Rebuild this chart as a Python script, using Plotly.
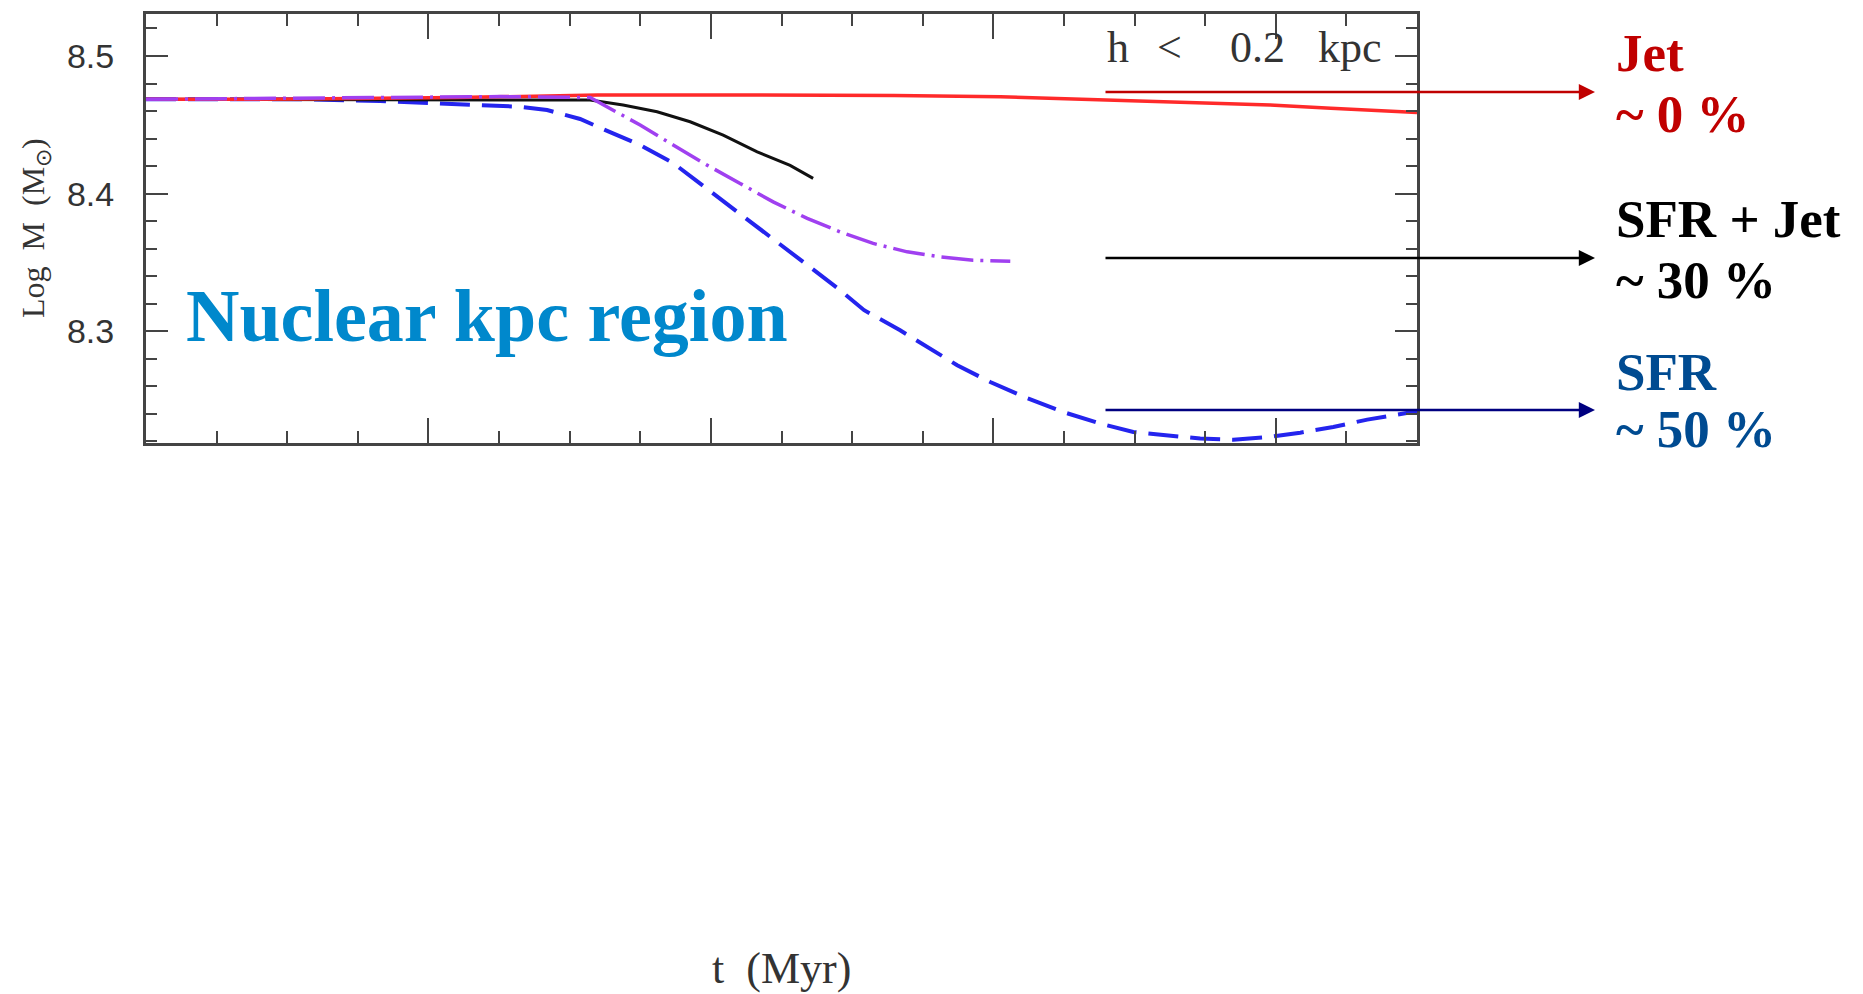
import plotly.graph_objects as go

# ---------------- data ----------------
# t in Myr (axis 0..9, no labelled ticks visible), log M in M_sun
t_jet = [0, 1.1, 2.2, 3.2, 4.3, 5.3, 6.05, 6.85, 7.47, 7.96, 8.39, 9.0]
m_jet = [8.4685, 8.4687, 8.4698, 8.4716, 8.4716, 8.4713, 8.4704, 8.468, 8.4656, 8.4644, 8.462, 8.4589]

t_sfr_jet = [0, 1.5, 3.145, 3.378, 3.619, 3.853, 4.087, 4.328, 4.561, 4.724]
m_sfr_jet = [8.4685, 8.4685, 8.468, 8.4644, 8.4595, 8.4522, 8.4425, 8.4304, 8.4205, 8.4111]

t_mix = [0, 1.30, 2.51, 3.145, 3.265, 3.499, 3.733, 3.973, 4.207, 4.441, 4.682,
         4.915, 5.149, 5.39, 5.624, 5.857, 6.12]
m_mix = [8.4685, 8.4698, 8.4705, 8.4698, 8.4631, 8.4498, 8.4353, 8.4207, 8.4074, 8.394, 8.382,
         8.3722, 8.3638, 8.3577, 8.354, 8.3516, 8.3509]

t_sfr = [0, 1.091, 1.657, 2.011, 2.387, 2.649, 2.840, 3.074, 3.286, 3.499, 3.733, 3.910,
         4.087, 4.299, 4.505, 4.703, 4.915, 5.085, 5.340, 5.574, 5.744, 5.978, 6.240,
         6.495, 6.757, 6.991, 7.231, 7.465, 7.699, 7.940, 8.173, 8.407, 8.648, 9.0]
m_sfr = [8.4685, 8.4685, 8.4673, 8.4658, 8.4644, 8.4631, 8.4607, 8.4542, 8.4447, 8.4353,
         8.4222, 8.4084, 8.3953, 8.3785, 8.3625, 8.3465, 8.3298, 8.3153, 8.3007, 8.2862,
         8.2753, 8.2631, 8.2513, 8.2413, 8.2329, 8.2268, 8.2244, 8.222, 8.2212, 8.2231,
         8.2263, 8.2304, 8.2358, 8.2418]

x_range = [0, 9]
y_range = [8.2188, 8.5305]
y_ticks = [8.3, 8.4, 8.5]
y_ticklabels = ["8.3", "8.4", "8.5"]

panel_label = "h <  0.2 kpc"
region_label = "Nuclear kpc region"
y_title = "Log  M  (M<sub>⊙</sub>)"
x_title = "t  (Myr)"
case_names = ["Jet", "SFR + Jet", "SFR"]
case_fractions = ["~ 0 %", "~ 30 %", "~ 50 %"]

# ---------------- layout geometry (pixels) ----------------
W, H = 1863, 994
L, R, T, B = 146, 1417, 14, 443


def fx(px):
    return (px - L) / (R - L)


def fy(py):
    return (B - py) / (B - T)


AX = "#444444"
fig = go.Figure()

fig.add_trace(go.Scatter(x=t_sfr, y=m_sfr, mode="lines", name="SFR",
                         line=dict(color="#2424EE", width=4, dash="30px,12px")))
fig.add_trace(go.Scatter(x=t_sfr_jet, y=m_sfr_jet, mode="lines", name="SFR + Jet",
                         line=dict(color="#111111", width=3)))
fig.add_trace(go.Scatter(x=t_jet, y=m_jet, mode="lines", name="Jet",
                         line=dict(color="#FF2A2A", width=3.5)))
fig.add_trace(go.Scatter(x=t_mix, y=m_mix, mode="lines", name="mix",
                         line=dict(color="#A040F0", width=3.5, dash="32px,7px,3px,7px")))

common_x = dict(range=x_range, tick0=0, dtick=2, showticklabels=False,
                showgrid=False, zeroline=False)

fig.update_layout(
    width=W, height=H, autosize=False,
    margin=dict(l=L, r=W - R, t=T, b=H - B, pad=0),
    paper_bgcolor="white", plot_bgcolor="white",
    showlegend=False,
    xaxis=dict(**common_x, ticks="inside", ticklen=25, tickwidth=2, tickcolor=AX,
               minor=dict(dtick=0.5, ticks="inside", ticklen=12, tickwidth=2, tickcolor=AX),
               showline=True, linewidth=3, linecolor=AX, mirror="ticks"),
    xaxis2=dict(**common_x, overlaying="x", anchor="y", side="bottom",
                ticks="outside", ticklen=10, tickwidth=2, tickcolor=AX,
                minor=dict(dtick=0.5, ticks="outside", ticklen=10, tickwidth=2, tickcolor=AX),
                showline=False),
    xaxis3=dict(**common_x, overlaying="x", anchor="y", side="top",
                ticks="outside", ticklen=5, tickwidth=2, tickcolor=AX,
                minor=dict(dtick=0.5, ticks="outside", ticklen=5, tickwidth=2, tickcolor=AX),
                showline=False),
    yaxis=dict(range=y_range, tickvals=y_ticks, ticktext=y_ticklabels,
               ticks="inside", ticklen=22, tickwidth=2, tickcolor=AX,
               minor=dict(dtick=0.02, tick0=8.3, ticks="inside", ticklen=11, tickwidth=2, tickcolor=AX),
               showline=True, linewidth=3, linecolor=AX, mirror="ticks",
               showgrid=False, zeroline=False,
               tickfont=dict(family="Liberation Sans, Arial, sans-serif", size=34, color="#333333"),
               ticklabelstandoff=22),
)

ann = []
serif = "Liberation Serif, Times New Roman, serif"

# panel label "h < 0.2 kpc" as chunks to match the wide spacing
for txt, cx in zip(panel_label.split(), [1118, 1169, 1257, 1350]):
    ann.append(dict(text=txt, x=fx(cx), y=fy(48), xref="paper", yref="paper",
                    xanchor="center", yanchor="middle", showarrow=False,
                    font=dict(family=serif, size=44, color="#333333")))

# region label
ann.append(dict(text="<b>" + region_label + "</b>", x=fx(184), y=fy(316), xref="paper", yref="paper",
                xanchor="left", yanchor="middle", showarrow=False,
                font=dict(family=serif, size=74, color="#0088CC")))

# axis titles
ann.append(dict(text=y_title, x=fx(35), y=fy(228), xref="paper", yref="paper",
                xanchor="center", yanchor="middle", showarrow=False, textangle=-90,
                font=dict(family=serif, size=32, color="#333333")))
ann.append(dict(text=x_title, x=fx(781), y=fy(968), xref="paper", yref="paper",
                xanchor="center", yanchor="middle", showarrow=False,
                font=dict(family=serif, size=44, color="#333333")))

# arrows + right-hand labels
arrow_y = [92, 258, 410]
arrow_col = ["#C00000", "#000000", "#000080"]
text_col = ["#C00000", "#000000", "#004B91"]
name_y = [53, 219, 372]
frac_y = [114, 280, 429]
tip_x, tail_x = 1595, 1104
for i in range(3):
    ann.append(dict(text="", x=fx(tip_x), y=fy(arrow_y[i]), xref="paper", yref="paper",
                    ax=-(tip_x - tail_x), ay=0, axref="pixel", ayref="pixel",
                    showarrow=True, arrowhead=2, arrowsize=1.2, arrowwidth=2.7,
                    arrowcolor=arrow_col[i], standoff=0, startstandoff=0))
    ann.append(dict(text="<b>" + case_names[i] + "</b>", x=fx(1614), y=fy(name_y[i]),
                    xref="paper", yref="paper", xanchor="left", yanchor="middle",
                    showarrow=False, font=dict(family=serif, size=53, color=text_col[i])))
    ann.append(dict(text="<b>" + case_fractions[i] + "</b>", x=fx(1614), y=fy(frac_y[i]),
                    xref="paper", yref="paper", xanchor="left", yanchor="middle",
                    showarrow=False, font=dict(family=serif, size=53, color=text_col[i])))

fig.update_layout(annotations=ann)

fig.write_html("out.html", config={"displayModeBar": False},
               post_script="document.body.style.margin='0';")
